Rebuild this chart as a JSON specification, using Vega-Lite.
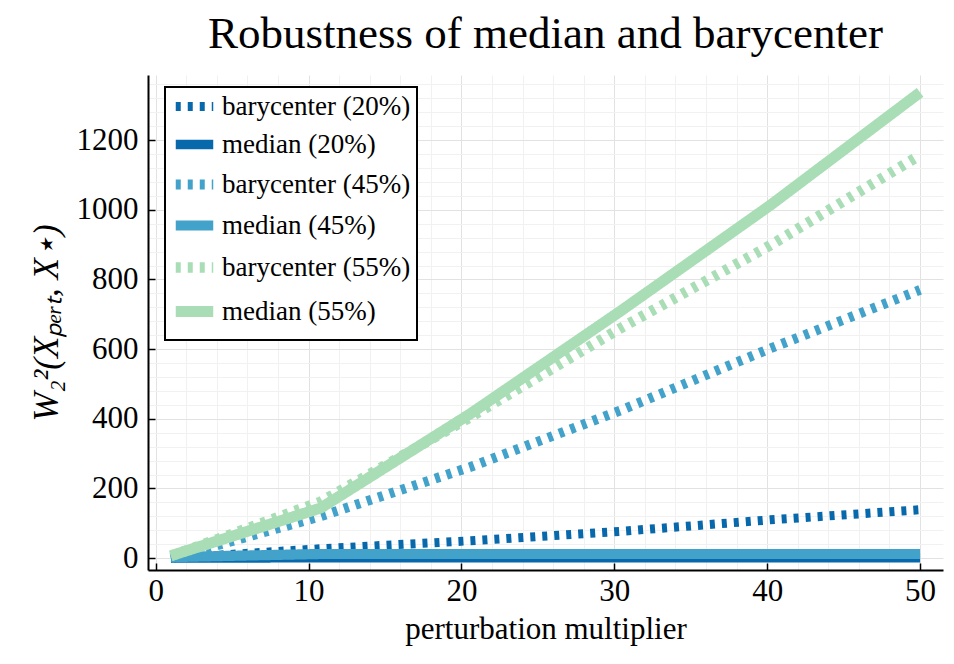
{
  "$schema": "https://vega.github.io/schema/vega-lite/v6.json",
  "width": 795,
  "height": 495,
  "autosize": {"type": "none"},
  "padding": {"left": 148, "top": 75, "right": 11, "bottom": 94},
  "background": "white",
  "title": {
    "text": "Robustness of median and barycenter",
    "font": "Liberation Serif",
    "fontSize": 45,
    "fontWeight": "normal",
    "anchor": "middle",
    "offset": 18,
    "color": "black"
  },
  "data": {
    "values": [
      {"multiplier": 1, "w2": 0, "series": "barycenter (20%)"},
      {"multiplier": 10.8, "w2": 27, "series": "barycenter (20%)"},
      {"multiplier": 20.6, "w2": 50, "series": "barycenter (20%)"},
      {"multiplier": 30.4, "w2": 77, "series": "barycenter (20%)"},
      {"multiplier": 40.2, "w2": 110, "series": "barycenter (20%)"},
      {"multiplier": 50, "w2": 139, "series": "barycenter (20%)"},
      {"multiplier": 1, "w2": 0, "series": "median (20%)"},
      {"multiplier": 10.8, "w2": 1, "series": "median (20%)"},
      {"multiplier": 20.6, "w2": 1, "series": "median (20%)"},
      {"multiplier": 30.4, "w2": 1, "series": "median (20%)"},
      {"multiplier": 40.2, "w2": 1, "series": "median (20%)"},
      {"multiplier": 50, "w2": 1, "series": "median (20%)"},
      {"multiplier": 1, "w2": 0, "series": "barycenter (45%)"},
      {"multiplier": 10.8, "w2": 120, "series": "barycenter (45%)"},
      {"multiplier": 20.6, "w2": 262, "series": "barycenter (45%)"},
      {"multiplier": 30.4, "w2": 424, "series": "barycenter (45%)"},
      {"multiplier": 40.2, "w2": 602, "series": "barycenter (45%)"},
      {"multiplier": 50, "w2": 770, "series": "barycenter (45%)"},
      {"multiplier": 1, "w2": 3, "series": "median (45%)"},
      {"multiplier": 10.8, "w2": 12, "series": "median (45%)"},
      {"multiplier": 20.6, "w2": 12, "series": "median (45%)"},
      {"multiplier": 30.4, "w2": 12, "series": "median (45%)"},
      {"multiplier": 40.2, "w2": 12, "series": "median (45%)"},
      {"multiplier": 50, "w2": 12, "series": "median (45%)"},
      {"multiplier": 1, "w2": 6, "series": "barycenter (55%)"},
      {"multiplier": 10.8, "w2": 162, "series": "barycenter (55%)"},
      {"multiplier": 20.6, "w2": 405, "series": "barycenter (55%)"},
      {"multiplier": 30.4, "w2": 660, "series": "barycenter (55%)"},
      {"multiplier": 40.2, "w2": 898, "series": "barycenter (55%)"},
      {"multiplier": 50, "w2": 1157, "series": "barycenter (55%)"},
      {"multiplier": 1, "w2": 7, "series": "median (55%)"},
      {"multiplier": 10.8, "w2": 144, "series": "median (55%)"},
      {"multiplier": 20.6, "w2": 415, "series": "median (55%)"},
      {"multiplier": 30.4, "w2": 709, "series": "median (55%)"},
      {"multiplier": 40.2, "w2": 1013, "series": "median (55%)"},
      {"multiplier": 50, "w2": 1337, "series": "median (55%)"}
    ]
  },
  "mark": {"type": "line", "strokeCap": "butt", "clip": true},
  "encoding": {
    "x": {
      "field": "multiplier",
      "type": "quantitative",
      "title": "perturbation multiplier",
      "scale": {"domain": [-0.5, 51.5], "nice": false, "zero": false},
      "axis": {
        "values": [0, 2, 4, 6, 8, 10, 12, 14, 16, 18, 20, 22, 24, 26, 28, 30, 32, 34, 36, 38, 40, 42, 44, 46, 48, 50],
        "labelExpr": "datum.value % 10 === 0 ? datum.label : ''",
        "gridColor": {"condition": {"test": "datum.value % 10 === 0", "value": "#e2e2e2"}, "value": "#f1f1f1"},
        "tickOpacity": {"condition": {"test": "datum.value % 10 === 0", "value": 1}, "value": 0},
        "labelPadding": 13,
        "titlePadding": 8
      }
    },
    "y": {
      "field": "w2",
      "type": "quantitative",
      "title": "W₂²(Xₚₑᵣₜ, X⋆)",
      "scale": {"domain": [-34, 1387], "nice": false, "zero": false},
      "axis": {
        "values": [0, 40, 80, 120, 160, 200, 240, 280, 320, 360, 400, 440, 480, 520, 560, 600, 640, 680, 720, 760, 800, 840, 880, 920, 960, 1000, 1040, 1080, 1120, 1160, 1200, 1240, 1280, 1320, 1360],
        "labelExpr": "datum.value % 200 === 0 ? datum.value : ''",
        "gridColor": {"condition": {"test": "datum.value % 200 === 0", "value": "#e2e2e2"}, "value": "#f1f1f1"},
        "tickOpacity": {"condition": {"test": "datum.value % 200 === 0", "value": 1}, "value": 0},
        "labelPadding": 17,
        "titlePadding": 12,
        "titleFontSize": 35,
        "titleFontStyle": "italic"
      }
    },
    "color": {
      "field": "series",
      "type": "nominal",
      "title": null,
      "scale": {
        "domain": ["barycenter (20%)", "median (20%)", "barycenter (45%)", "median (45%)", "barycenter (55%)", "median (55%)"],
        "range": ["#0868ac", "#0868ac", "#43a2ca", "#43a2ca", "#a8ddb5", "#a8ddb5"]
      }
    },
    "strokeDash": {
      "field": "series",
      "type": "nominal",
      "title": null,
      "scale": {
        "domain": ["barycenter (20%)", "median (20%)", "barycenter (45%)", "median (45%)", "barycenter (55%)", "median (55%)"],
        "range": [[5, 7], [1, 0], [5, 7], [1, 0], [5, 7], [1, 0]]
      }
    },
    "strokeWidth": {
      "field": "series",
      "type": "nominal",
      "title": null,
      "scale": {
        "domain": ["barycenter (20%)", "median (20%)", "barycenter (45%)", "median (45%)", "barycenter (55%)", "median (55%)"],
        "range": [9, 11, 9, 11, 9, 11]
      }
    }
  },
  "config": {
    "view": {"stroke": null},
    "font": "Liberation Serif",
    "axis": {
      "labelFont": "Liberation Serif",
      "labelFontSize": 31,
      "labelColor": "black",
      "titleFont": "Liberation Serif",
      "titleFontSize": 31,
      "titleFontWeight": "normal",
      "titleColor": "black",
      "domainColor": "black",
      "domainWidth": 2,
      "tickColor": "black",
      "tickWidth": 1.5,
      "tickSize": -7,
      "grid": true,
      "gridWidth": 1
    },
    "legend": {
      "orient": "none",
      "legendX": 17,
      "legendY": 12,
      "fillColor": "white",
      "strokeColor": "black",
      "strokeWidth": 2,
      "padding": 6,
      "labelFont": "Liberation Serif",
      "labelFontSize": 27,
      "labelColor": "black",
      "labelLimit": 400,
      "symbolType": "M-2.5,0H2.5",
      "symbolSize": 225,
      "symbolOffset": 10,
      "rowPadding": 0,
      "labelOffset": 14
    }
  }
}
